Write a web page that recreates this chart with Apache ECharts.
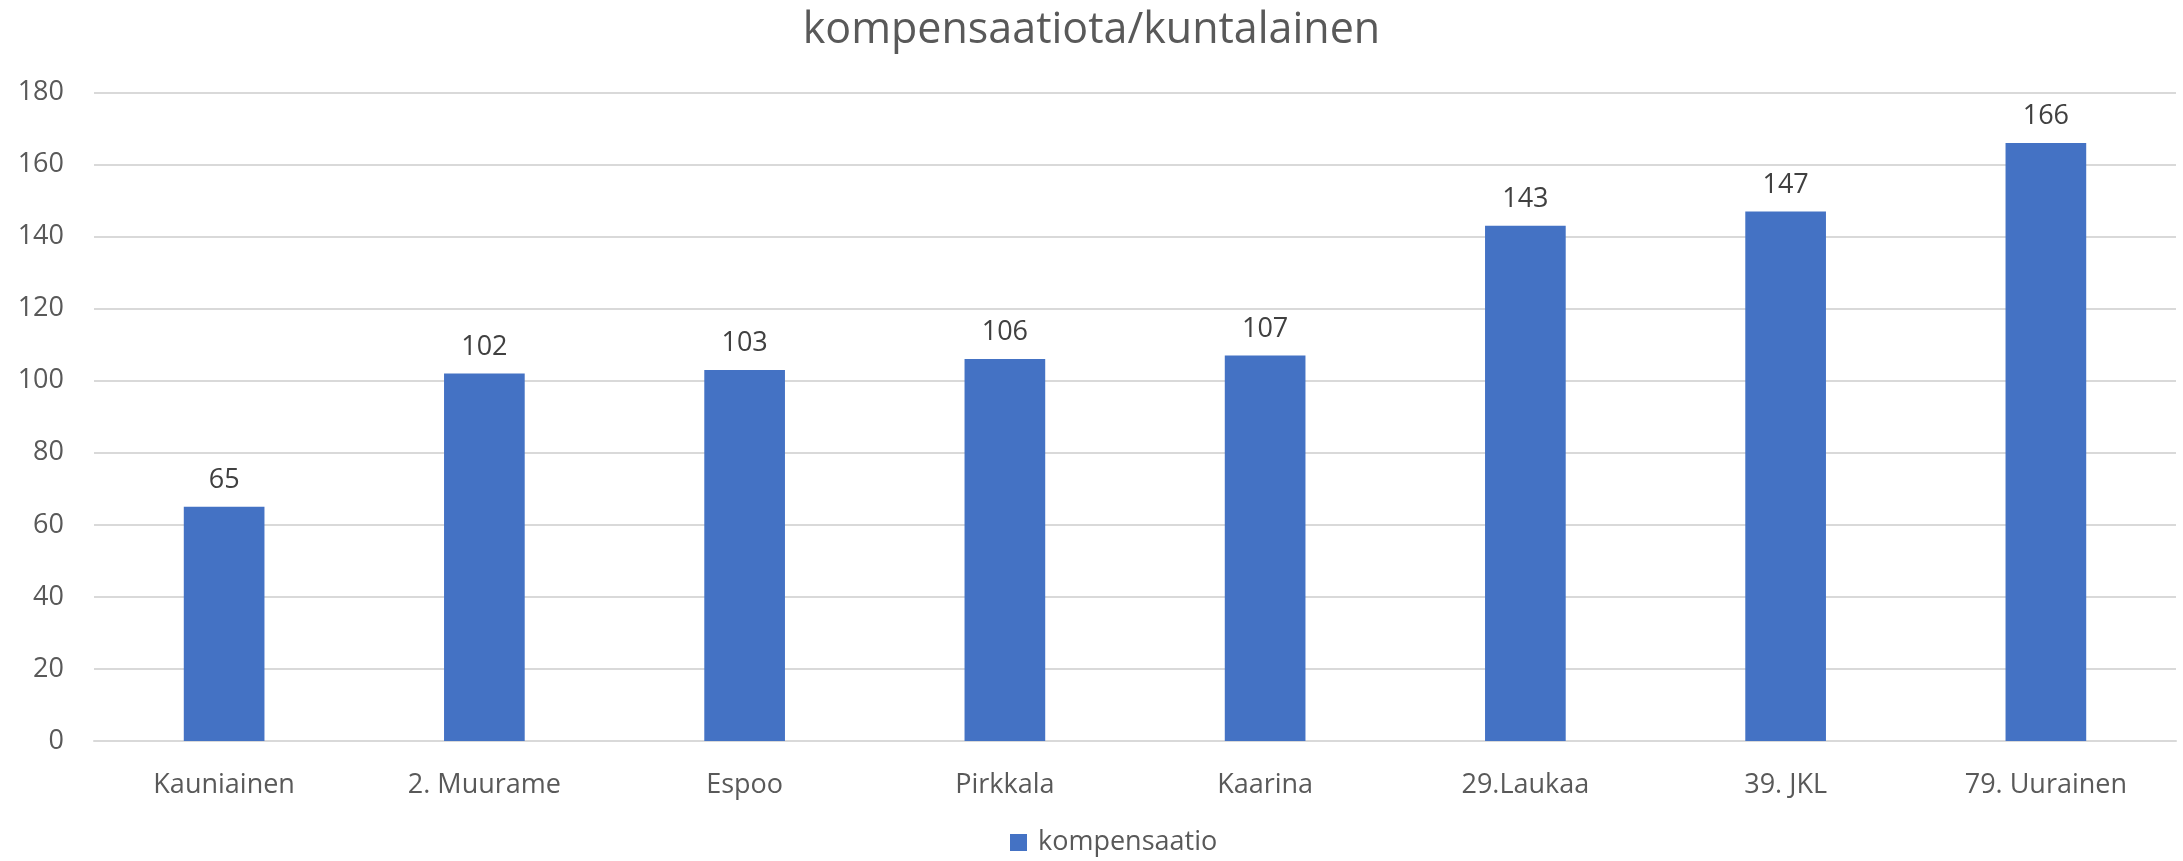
<!DOCTYPE html>
<html>
<head>
<meta charset="utf-8">
<script src="https://cdn.jsdelivr.net/npm/echarts@6/dist/echarts.min.js"></script>
<style>
  html, body { margin: 0; padding: 0; background: #fff; }
  #chart { width: 2183px; height: 861px; }
</style>
</head>
<body>
<div id="chart"></div>
<script>
var categories = ['Kauniainen', '2. Muurame', 'Espoo', 'Pirkkala', 'Kaarina', '29.Laukaa', '39. JKL', '79. Uurainen'];
var values = [65, 102, 103, 106, 107, 143, 147, 166];
var seriesName = 'kompensaatio';
var yTicks = [0, 20, 40, 60, 80, 100, 120, 140, 160, 180];

var font = '"Open Sans", "Noto Sans", sans-serif';
var myChart = echarts.init(document.getElementById('chart'));
myChart.setOption({
    animation: false,
    title: {
        text: 'kompensaatiota/kuntalainen',
        left: 'center',
        top: 4,
        textStyle: { fontFamily: font, fontSize: 43, fontWeight: 'normal', color: '#595959' }
    },
    legend: {
        bottom: 0,
        left: 1005,
        itemWidth: 17,
        itemHeight: 17,
        itemGap: 8,
        icon: 'rect',
        textStyle: { fontFamily: font, fontSize: 27, color: '#595959', padding: [0, 0, 0, 6] },
        data: [seriesName]
    },
    grid: { left: 94, right: 7, top: 92.5, bottom: 120, containLabel: false },
    xAxis: {
        type: 'category',
        data: categories,
        axisTick: { show: false },
        axisLine: { lineStyle: { color: '#d9d9d9', width: 2 } },
        axisLabel: { fontFamily: font, fontSize: 27, color: '#595959', margin: 31 }
    },
    yAxis: {
        type: 'value',
        min: yTicks[0],
        max: yTicks[yTicks.length - 1],
        interval: 20,
        axisLine: { show: false },
        axisTick: { show: false },
        splitLine: { lineStyle: { color: '#d9d9d9', width: 2 } },
        axisLabel: { fontFamily: font, fontSize: 27, color: '#595959', margin: 30 }
    },
    series: [{
        name: seriesName,
        type: 'bar',
        data: values,
        barWidth: '31%',
        itemStyle: { color: '#4472c4' },
        label: {
            show: true,
            position: 'top',
            distance: 13,
            fontFamily: font,
            fontSize: 27,
            color: '#404040'
        }
    }]
});
</script>
</body>
</html>
